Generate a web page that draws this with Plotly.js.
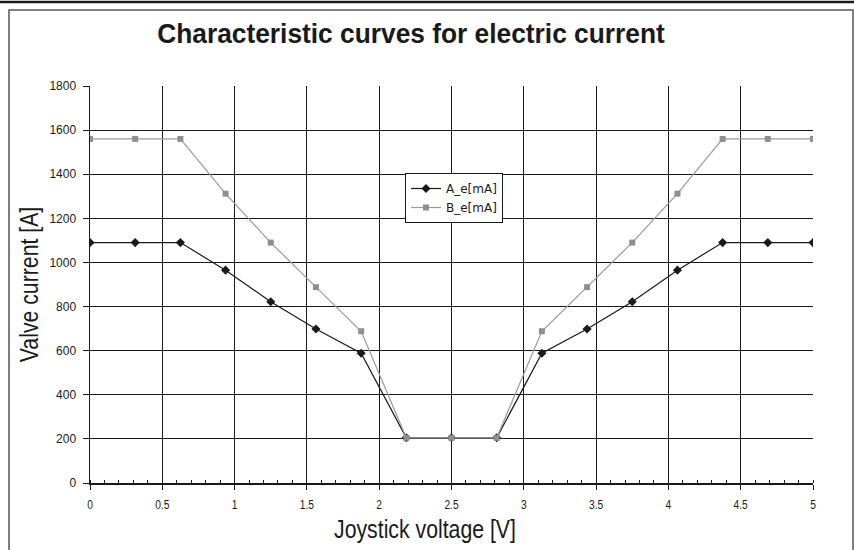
<!DOCTYPE html>
<html>
<head>
<meta charset="utf-8">
<script src="https://cdn.plot.ly/plotly-3.0.1.min.js"></script>
<style>
html,body{margin:0;padding:0;background:#fff;}
#chart{width:854px;height:550px;}
</style>
</head>
<body>
<div id="chart"></div>
<script>
const voltage = [0, 0.3125, 0.625, 0.9375, 1.25, 1.5625, 1.875, 2.1875, 2.5, 2.8125, 3.125, 3.4375, 3.75, 4.0625, 4.375, 4.6875, 5];
const currentA = [1090, 1090, 1090, 965, 822, 698, 588, 205, 205, 205, 588, 698, 822, 965, 1090, 1090, 1090];
const currentB = [1560, 1560, 1560, 1312, 1090, 888, 688, 205, 205, 205, 688, 888, 1090, 1312, 1560, 1560, 1560];
const seriesNames = ['A_e[mA]', 'B_e[mA]'];
const xTicks = [0, 0.5, 1, 1.5, 2, 2.5, 3, 3.5, 4, 4.5, 5];
const yTicks = [0, 200, 400, 600, 800, 1000, 1200, 1400, 1600, 1800];

const sans = '"Liberation Sans", Arial, sans-serif';
const legendFont = '"DejaVu Sans", sans-serif';

const traces = [
  {x: voltage, y: currentA, name: seriesNames[0], type: 'scatter', mode: 'lines+markers',
   line: {color: '#1a1a1a', width: 1.2}, marker: {symbol: 'diamond', size: 7, color: '#1a1a1a'}},
  {x: voltage, y: currentB, name: seriesNames[1], type: 'scatter', mode: 'lines+markers',
   line: {color: '#9a9a9a', width: 1.2}, marker: {symbol: 'square', size: 6, color: '#8f8f8f'}}
];

const layout = {
  width: 854, height: 550,
  margin: {l: 90, r: 41, t: 86, b: 67},
  paper_bgcolor: '#ffffff', plot_bgcolor: '#ffffff',
  font: {family: sans, color: '#1a1a1a', size: 11},
  title: {text: 'Characteristic curves for electric current', font: {family: sans, size: 28, weight: 700, color: '#1a1a1a'},
          x: 411/854, xref: 'container', xanchor: 'center', y: 1 - 33/550, yref: 'container', yanchor: 'middle'},
  xaxis: {range: [0, 5], tickvals: xTicks, ticktext: xTicks.map(String), showgrid: true, gridcolor: '#1a1a1a', gridwidth: 1,
          zeroline: false, showline: true, linecolor: '#1a1a1a', linewidth: 1.5, ticks: 'outside', ticklen: 5, tickcolor: '#1a1a1a',
          minor: {dtick: 0.1, ticks: 'inside', ticklen: 3, tickcolor: '#1a1a1a', showgrid: false},
          ticklabelstandoff: 5, tickfont: {family: sans, size: 12}, fixedrange: true},
  yaxis: {range: [0, 1800], tickvals: yTicks, ticktext: yTicks.map(String), showgrid: true, gridcolor: '#1a1a1a', gridwidth: 1,
          zeroline: false, showline: true, linecolor: '#1a1a1a', linewidth: 1.5, ticks: 'outside', ticklen: 6, tickcolor: '#1a1a1a',
          ticklabelstandoff: 4, tickfont: {family: sans, size: 12},
          title: {text: 'Valve current [A]', font: {family: sans, size: 25, color: '#1a1a1a'}, standoff: 3}, fixedrange: true},
  legend: {x: (405-90)/723, y: (483-173)/397, xanchor: 'left', yanchor: 'top', bgcolor: '#ffffff',
           bordercolor: '#1a1a1a', borderwidth: 1, font: {family: legendFont, size: 12}, tracegroupgap: 0, itemwidth: 30},
  annotations: [
    {text: 'Joystick voltage [V]', xref: 'paper', yref: 'paper', x: (425-90)/723, y: (483-529)/397,
     xanchor: 'center', yanchor: 'middle', showarrow: false, font: {family: sans, size: 25, color: '#1a1a1a'}}
  ],
  shapes: [
    {type: 'rect', xref: 'paper', yref: 'paper', x0: (9-90)/723, x1: (853-90)/723, y0: (483-560)/397, y1: (483-10)/397,
     line: {color: '#555555', width: 1.5}, fillcolor: 'rgba(0,0,0,0)', layer: 'below'},
    {type: 'line', xref: 'paper', yref: 'paper', x0: (0-90)/723, x1: (854-90)/723, y0: (483-2)/397, y1: (483-2)/397,
     line: {color: '#1a1a1a', width: 2.5}}
  ],
  showlegend: true
};

function condense(selector, ratio) {
  document.querySelectorAll('#chart ' + selector).forEach(function (t) {
    const w = t.getComputedTextLength();
    if (w > 0) {
      t.setAttribute('textLength', (w * ratio).toFixed(1));
      t.setAttribute('lengthAdjust', 'spacingAndGlyphs');
    }
  });
}

Plotly.newPlot('chart', traces, layout, {displayModeBar: false, staticPlot: true}).then(function () {
  condense('.gtitle', 0.94);
  condense('.g-ytitle text', 0.85);
  condense('.annotation-text', 0.85);
  condense('.xtick text', 0.85);
});
</script>
</body>
</html>
